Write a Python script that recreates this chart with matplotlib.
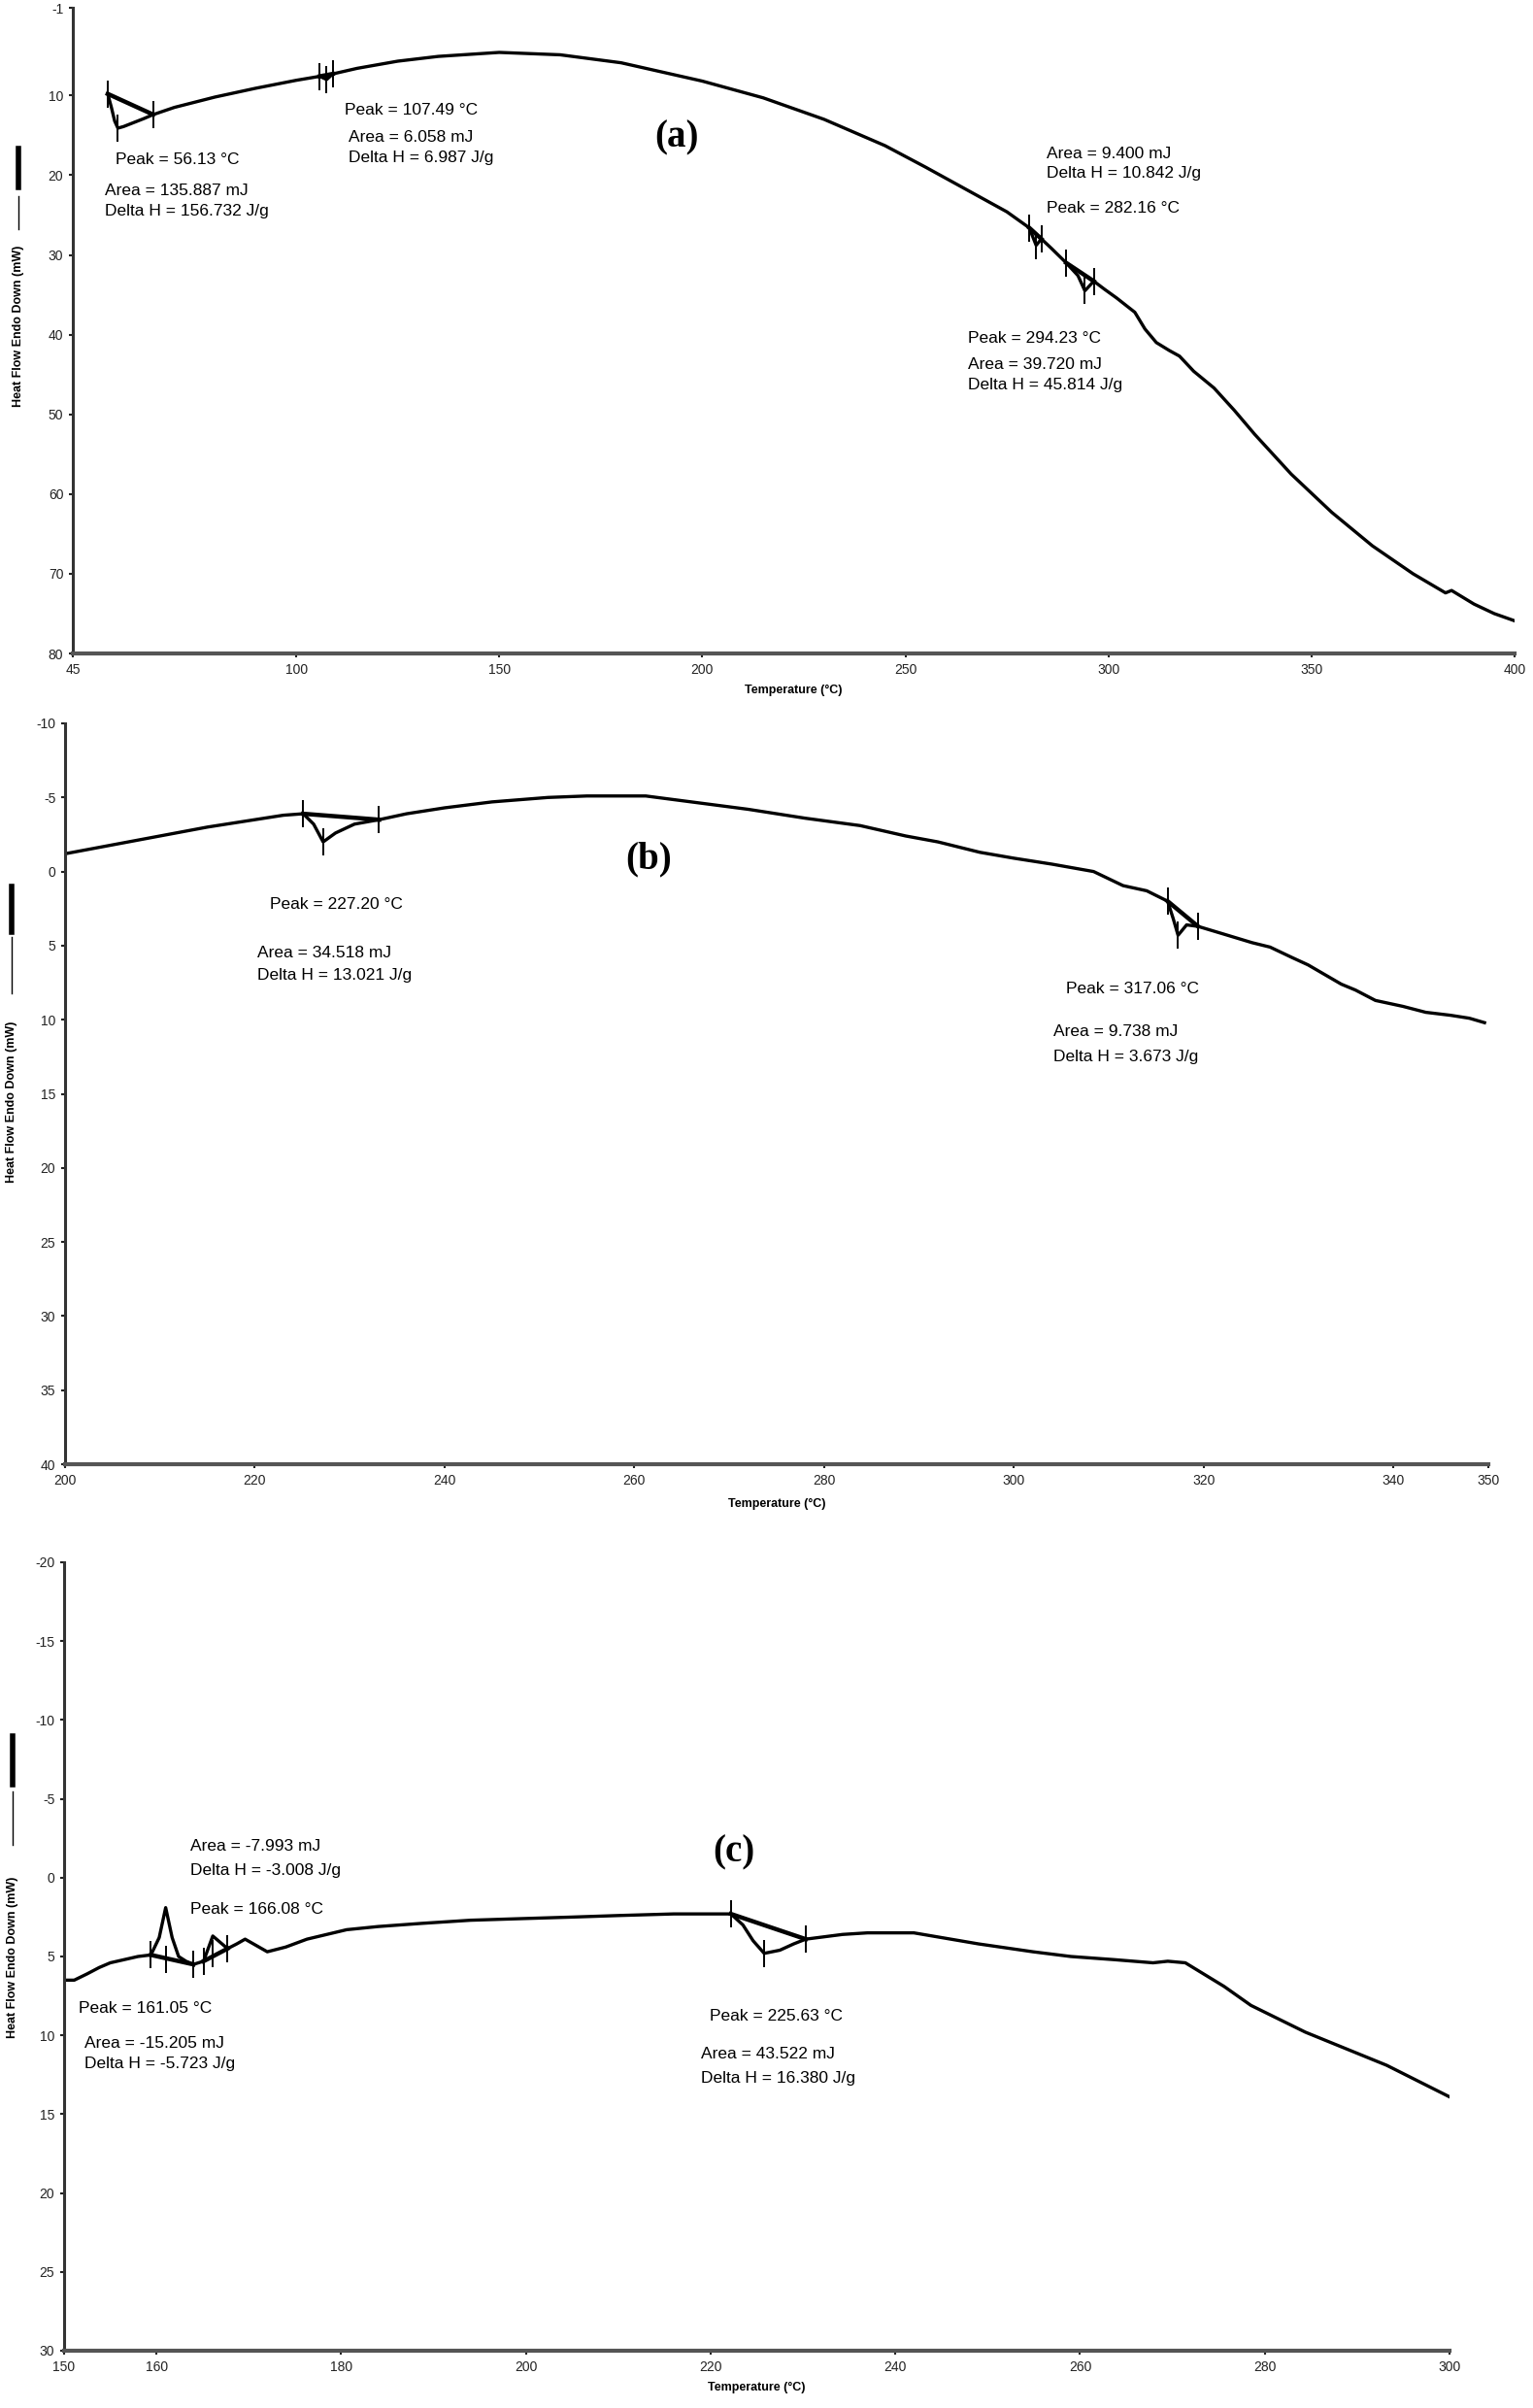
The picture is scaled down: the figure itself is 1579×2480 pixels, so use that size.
import matplotlib.pyplot as plt
from matplotlib.lines import Line2D

plt.rcParams['font.family'] = ['Liberation Sans', 'DejaVu Sans']
plt.rcParams['axes.unicode_minus'] = False

W, H = 1579, 2480

# ---- panel (a) ----
temp_a = [53.6, 54.5, 55.3, 56.1, 57.5, 60, 62.5, 64.8, 70, 80, 90, 100, 105.8, 107.5, 109,
          115, 125, 135, 150, 165, 180, 200, 215, 230, 245, 255, 265, 275, 280.5, 282.2,
          283.5, 286, 289.6, 292.5, 294.2, 296.4, 299, 302, 306.5, 309, 311.8, 315, 317.5,
          321, 326, 331, 336, 345, 355, 365, 375, 381, 383, 384.5, 390, 395, 400]
flow_a = [9.8, 11.5, 13.2, 14.1, 13.9, 13.4, 12.9, 12.4, 11.5, 10.2, 9.1, 8.1, 7.6, 8.0, 7.3,
          6.6, 5.7, 5.1, 4.6, 4.9, 5.9, 8.2, 10.3, 13.0, 16.3, 19.0, 21.8, 24.6, 26.6, 28.8,
          28.0, 29.2, 31.0, 32.6, 34.5, 33.3, 34.3, 35.4, 37.2, 39.3, 41.0, 42.0, 42.7,
          44.6, 46.7, 49.5, 52.5, 57.5, 62.3, 66.5, 70.0, 71.8, 72.4, 72.1, 73.8, 75.0, 75.9]
base_a = [([53.6, 64.8], [9.8, 12.4]), ([105.8, 109.0], [7.6, 7.3]),
          ([280.5, 283.5], [26.6, 28.0]), ([289.6, 296.4], [31.0, 33.3])]
mark_t_a = [53.6, 56.1, 64.8, 105.8, 107.5, 109.0, 280.5, 282.2, 283.5, 289.6, 294.2, 296.4]
mark_v_a = [9.8, 14.1, 12.4, 7.6, 8.0, 7.3, 26.6, 28.8, 28.0, 31.0, 34.5, 33.3]
xticks_a = [45, 100, 150, 200, 250, 300, 350, 400]
yticks_a = [-1, 10, 20, 30, 40, 50, 60, 70, 80]

# ---- panel (b) ----
temp_b = [200, 205, 210, 215, 220, 223, 225.1, 226.2, 227.2, 228.5, 230.5, 233.1, 236, 240,
          245, 250.9, 255, 261.2, 266, 272, 278, 283.8, 288.6, 292, 296.4, 300, 304, 308.4,
          311.5, 314, 316.2, 316.8, 317.3, 318.2, 319.4, 322, 325.1, 327, 329.3, 331, 334.5,
          336, 338.1, 341, 343.4, 346, 348, 349.6]
flow_b = [-1.2, -1.8, -2.4, -3.0, -3.5, -3.8, -3.9, -3.2, -2.0, -2.6, -3.2, -3.5, -3.9, -4.3,
          -4.7, -5.0, -5.1, -5.1, -4.7, -4.2, -3.6, -3.1, -2.4, -2.0, -1.3, -0.9, -0.5, 0.0,
          0.95, 1.3, 2.0, 3.2, 4.3, 3.6, 3.7, 4.2, 4.8, 5.1, 5.8, 6.3, 7.6,
          8.0, 8.7, 9.1, 9.5, 9.7, 9.9, 10.2]
base_b = [([225.1, 233.1], [-3.9, -3.5]), ([316.2, 319.4], [2.0, 3.7])]
mark_t_b = [225.1, 227.2, 233.1, 316.2, 317.3, 319.4]
mark_v_b = [-3.9, -2.0, -3.5, 2.0, 4.3, 3.7]
xticks_b = [200, 220, 240, 260, 280, 300, 320, 340, 350]
yticks_b = [-10, -5, 0, 5, 10, 15, 20, 25, 30, 35, 40]

# ---- panel (c) ----
temp_c = [150, 151.1, 152.5, 153.8, 155, 156.5, 158, 159.4, 160.3, 161.0, 161.7, 162.4, 163.2,
          164.0, 165.1, 165.6, 166.1, 166.9, 167.7, 168.7, 169.6, 170.8, 172.0, 174, 176.3,
          180.6, 184, 188.7, 194, 199.4, 205, 210.1, 216, 222.2, 223.5, 224.6, 225.8, 227.5,
          229, 230.3, 234.3, 237, 240.2, 242, 245, 249, 254.9, 259, 263.7, 267.9, 269.5,
          271.4, 275.6, 278.5, 284.4, 293.2, 300]
flow_c = [6.5, 6.5, 6.1, 5.7, 5.4, 5.2, 5.0, 4.9, 3.8, 1.9, 3.8, 5.0, 5.3,
          5.5, 5.3, 4.5, 3.7, 4.1, 4.5, 4.2, 3.9, 4.3, 4.7, 4.4, 3.9,
          3.3, 3.1, 2.9, 2.7, 2.6, 2.5, 2.4, 2.3, 2.3, 3.0, 4.0, 4.8, 4.6,
          4.2, 3.9, 3.6, 3.5, 3.5, 3.5, 3.8, 4.2, 4.7, 5.0, 5.2, 5.4, 5.3,
          5.4, 6.9, 8.1, 9.8, 11.9, 13.9]
base_c = [([159.4, 164.0], [4.9, 5.5]), ([165.1, 167.7], [5.3, 4.5]),
          ([222.2, 230.3], [2.3, 3.9])]
mark_t_c = [159.4, 161.0, 164.0, 165.1, 166.1, 167.7, 222.2, 225.8, 230.3]
mark_v_c = [4.9, 5.2, 5.5, 5.3, 4.8, 4.5, 2.3, 4.8, 3.9]
xticks_c = [150, 160, 180, 200, 220, 240, 260, 280, 300]
yticks_c = [-20, -15, -10, -5, 0, 5, 10, 15, 20, 25, 30]


def px_axes(l, r, t, b):
    return fig.add_axes([l / W, 1 - b / H, (r - l) / W, (b - t) / H])


def style_axes(ax, xlim, ylim, xticks, yticks):
    ax.set_xlim(*xlim)
    ax.set_ylim(*ylim)
    ax.set_xticks(xticks)
    ax.set_yticks(yticks)
    for s in ['top', 'right']:
        ax.spines[s].set_visible(False)
    ax.spines['left'].set_linewidth(2.2)
    ax.spines['bottom'].set_linewidth(3.0)
    ax.spines['left'].set_color('#333333')
    ax.spines['bottom'].set_color('#555555')
    ax.tick_params(direction='out', length=3, width=1.5, labelsize=10, pad=4,
                   colors='#222222')


def ylab(x, text_c, line_t, line_b, bar_t, bar_b):
    fig.text(x / W, 1 - text_c / H, 'Heat Flow Endo Down (mW)', rotation=90,
             ha='center', va='center', fontsize=9, fontweight='bold')
    fig.add_artist(Line2D([x / W, x / W], [1 - line_t / H, 1 - line_b / H],
                          color='black', lw=1.0))
    fig.add_artist(Line2D([x / W, x / W], [1 - bar_t / H, 1 - bar_b / H],
                          color='black', lw=4.0))


def draw(ax, t, v, bases, mt, mv):
    ax.plot(t, v, color='black', lw=2.4)
    for bt, bv in bases:
        ax.plot(bt, bv, color='black', lw=3.2)
    ax.plot(mt, mv, ls='none', marker='|', ms=20, mew=1.4, color='black')


fig = plt.figure(figsize=(W / 100, H / 100), dpi=100)

# (a)
ax1 = px_axes(75, 1560, 8, 673)
style_axes(ax1, (45, 400), (80, -1), xticks_a, yticks_a)
draw(ax1, temp_a, flow_a, base_a, mark_t_a, mark_v_a)
ax1.set_xlabel('Temperature (°C)', fontsize=9, fontweight='bold', labelpad=6)
ax1.text(55.5, 18.1, 'Peak = 56.13 °C', fontsize=12.5, va='center')
ax1.text(53.0, 22.0, 'Area = 135.887 mJ', fontsize=12.5, va='center')
ax1.text(53.0, 24.5, 'Delta H = 156.732 J/g', fontsize=12.5, va='center')
ax1.text(112.0, 11.8, 'Peak = 107.49 °C', fontsize=12.5, va='center')
ax1.text(112.8, 15.3, 'Area = 6.058 mJ', fontsize=12.5, va='center')
ax1.text(112.8, 17.8, 'Delta H = 6.987 J/g', fontsize=12.5, va='center')
ax1.text(284.8, 17.3, 'Area = 9.400 mJ', fontsize=12.5, va='center')
ax1.text(284.8, 19.8, 'Delta H = 10.842 J/g', fontsize=12.5, va='center')
ax1.text(284.8, 24.2, 'Peak = 282.16 °C', fontsize=12.5, va='center')
ax1.text(265.3, 40.5, 'Peak = 294.23 °C', fontsize=12.5, va='center')
ax1.text(265.3, 43.8, 'Area = 39.720 mJ', fontsize=12.5, va='center')
ax1.text(265.3, 46.3, 'Delta H = 45.814 J/g', fontsize=12.5, va='center')
ax1.text(193.6, 15.3, '(a)', fontsize=28, fontweight='bold', family='Liberation Serif',
         ha='center', va='center')
ylab(19, 336, 202, 236, 153, 193)

# (b)
ax2 = px_axes(67, 1533, 745, 1508)
style_axes(ax2, (200, 350), (40, -10), xticks_b, yticks_b)
draw(ax2, temp_b, flow_b, base_b, mark_t_b, mark_v_b)
ax2.set_xlabel('Temperature (°C)', fontsize=9, fontweight='bold', labelpad=8)
ax2.text(221.6, 2.2, 'Peak = 227.20 °C', fontsize=12.5, va='center')
ax2.text(220.3, 5.5, 'Area = 34.518 mJ', fontsize=12.5, va='center')
ax2.text(220.3, 7.0, 'Delta H = 13.021 J/g', fontsize=12.5, va='center')
ax2.text(305.5, 7.9, 'Peak = 317.06 °C', fontsize=12.5, va='center')
ax2.text(304.2, 10.8, 'Area = 9.738 mJ', fontsize=12.5, va='center')
ax2.text(304.2, 12.5, 'Delta H = 3.673 J/g', fontsize=12.5, va='center')
ax2.text(261.5, -0.8, '(b)', fontsize=28, fontweight='bold', family='Liberation Serif',
         ha='center', va='center')
ylab(12, 1135, 965, 1023, 913, 960)

# (c)
ax3 = px_axes(66, 1493, 1609, 2421)
style_axes(ax3, (150, 300), (30, -20), xticks_c, yticks_c)
draw(ax3, temp_c, flow_c, base_c, mark_t_c, mark_v_c)
ax3.set_xlabel('Temperature (°C)', fontsize=9, fontweight='bold', labelpad=6)
ax3.text(163.7, -2.0, 'Area = -7.993 mJ', fontsize=12.5, va='center')
ax3.text(163.7, -0.44, 'Delta H = -3.008 J/g', fontsize=12.5, va='center')
ax3.text(163.7, 2.0, 'Peak = 166.08 °C', fontsize=12.5, va='center')
ax3.text(151.6, 8.3, 'Peak = 161.05 °C', fontsize=12.5, va='center')
ax3.text(152.2, 10.5, 'Area = -15.205 mJ', fontsize=12.5, va='center')
ax3.text(152.2, 11.8, 'Delta H = -5.723 J/g', fontsize=12.5, va='center')
ax3.text(219.9, 8.8, 'Peak = 225.63 °C', fontsize=12.5, va='center')
ax3.text(219.0, 11.2, 'Area = 43.522 mJ', fontsize=12.5, va='center')
ax3.text(219.0, 12.7, 'Delta H = 16.380 J/g', fontsize=12.5, va='center')
ax3.text(222.5, -1.6, '(c)', fontsize=28, fontweight='bold', family='Liberation Serif',
         ha='center', va='center')
ylab(13, 2016, 1845, 1900, 1788, 1838)

fig.savefig('out.png', dpi=100)
